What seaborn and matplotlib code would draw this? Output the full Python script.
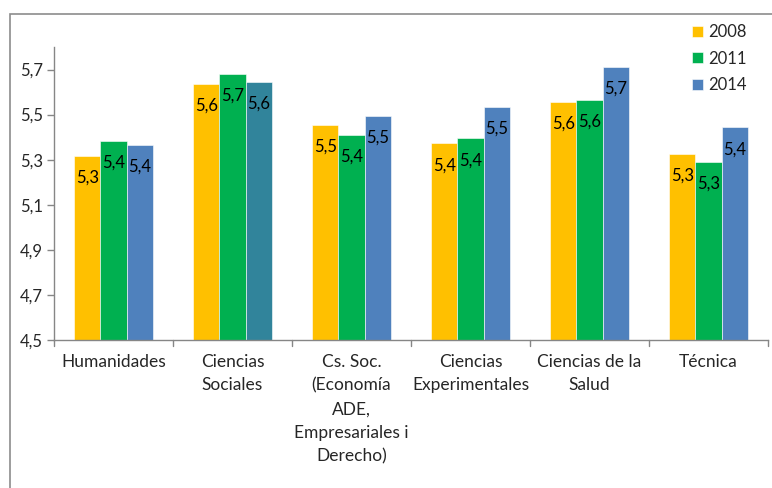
import pandas as pd
import matplotlib
matplotlib.use("Agg")
import matplotlib.pyplot as plt
import seaborn as sns
from matplotlib.patches import Rectangle

# Values
areas = ["Humanidades", "Ciencias\nSociales", "Cs. Soc.\n(Economía\nADE,\nEmpresariales i\nDerecho)",
         "Ciencias\nExperimentales", "Ciencias de la\nSalud", "Técnica"]
years = ["2008", "2011", "2014"]
v2008 = [5.318, 5.638, 5.454, 5.373, 5.558, 5.327]
v2011 = [5.384, 5.680, 5.411, 5.395, 5.564, 5.291]
v2014 = [5.365, 5.645, 5.493, 5.534, 5.711, 5.444]
year_colors = ["#FFC000", "#00B050", "#4F81BD"]
odd_color = "#31849B"  # 2014 bar of Ciencias Sociales is drawn in teal

df = pd.DataFrame({
    "area": areas * 3,
    "year": [y for y in years for _ in areas],
    "value": v2008 + v2011 + v2014,
})

sns.set_theme(style="white")
plt.rcParams["font.family"] = ["Lato", "DejaVu Sans"]

fig = plt.figure(figsize=(7.72, 4.88), dpi=100)
# outer chart border
fig.patches.append(Rectangle((10 / 772, -0.1), 1.0, (488 - 14) / 488 + 0.1,
                             transform=fig.transFigure, fill=False,
                             edgecolor="#8C8C8C", linewidth=1.2))
ax = fig.add_axes([54 / 772, (488 - 340) / 488, (768 - 54) / 772, (340 - 47) / 488])

sns.barplot(data=df, x="area", y="value", hue="year", palette=year_colors,
            width=0.66, gap=0, ax=ax, saturation=1, edgecolor="white", linewidth=0.4)
ax.containers[2][1].set_facecolor(odd_color)

for cont in ax.containers:
    for bar in cont:
        h = bar.get_height()
        ax.annotate(f"{h:.1f}".replace(".", ","),
                    (bar.get_x() + bar.get_width() / 2, h),
                    xytext=(0, -10), textcoords="offset points",
                    ha="center", va="top", fontsize=12, color="black")

ax.set_ylim(4.5, 5.8)
yt = [4.5, 4.7, 4.9, 5.1, 5.3, 5.5, 5.7]
ax.set_yticks(yt)
ax.set_yticklabels([f"{t:.1f}".replace(".", ",") for t in yt], fontsize=12)
ax.set_xlim(-0.5, len(areas) - 0.5)
ax.set_xticks(range(len(areas)))
ax.set_xticklabels(areas, fontsize=12.5, linespacing=1.58, va="top")
ax.tick_params(axis="x", length=0, pad=10)
ax.tick_params(axis="y", length=5, width=1, color="#868686", direction="out", left=True, pad=3)
# tick marks between categories
for b in range(len(areas) + 1):
    ax.plot([b - 0.5, b - 0.5], [0, -0.02], transform=ax.get_xaxis_transform(),
            color="#868686", lw=1, clip_on=False)

for s in ["top", "right"]:
    ax.spines[s].set_visible(False)
for s in ["left", "bottom"]:
    ax.spines[s].set_color("#868686")
    ax.spines[s].set_linewidth(1)
ax.set_xlabel("")
ax.set_ylabel("")

ax.legend(title=None, loc="upper right", bbox_to_anchor=(0.979, 1.10), frameon=False,
          fontsize=12, handlelength=0.65, handleheight=0.65, handletextpad=0.3,
          labelspacing=0.62, borderaxespad=0)

fig.savefig("out.png", dpi=100)
